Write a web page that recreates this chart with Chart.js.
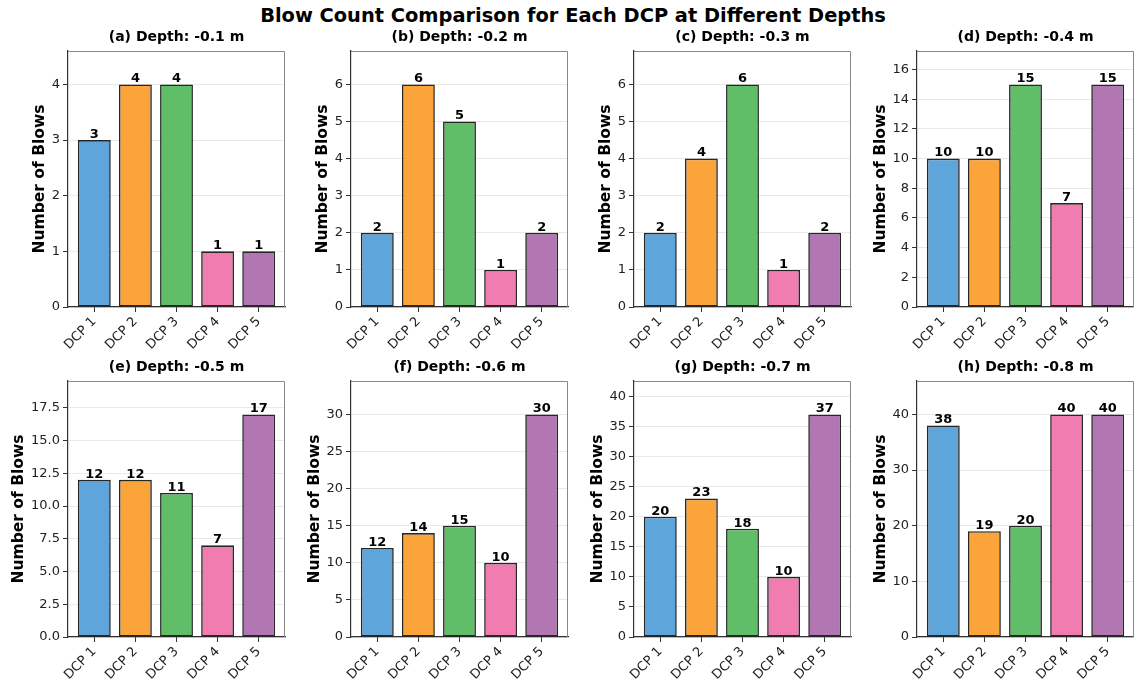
<!DOCTYPE html>
<html>
<head>
<meta charset="utf-8">
<script src="https://cdn.jsdelivr.net/npm/chart.js@4.4.1/dist/chart.umd.min.js"></script>
<style>
  html, body { margin: 0; padding: 0; background: #fff; overflow: hidden; }
  #wrap { position: relative; width: 1134px; height: 686px; }
  #title {
    position: absolute; left: 0; width: 1146px; top: 4px; text-align: center;
    font: bold 19.4px "DejaVu Sans", sans-serif; color: #000; line-height: 24px;
  }
  canvas { position: absolute; }
</style>
</head>
<body>
<div id="wrap">
  <div id="title">Blow Count Comparison for Each DCP at Different Depths</div>
</div>
<script>
// categorías y datos
const dcps = ['DCP 1', 'DCP 2', 'DCP 3', 'DCP 4', 'DCP 5'];
const panels = ['(a) Depth: -0.1 m', '(b) Depth: -0.2 m', '(c) Depth: -0.3 m', '(d) Depth: -0.4 m',
                '(e) Depth: -0.5 m', '(f) Depth: -0.6 m', '(g) Depth: -0.7 m', '(h) Depth: -0.8 m'];
const blows01 = [3, 4, 4, 1, 1];
const blows02 = [2, 6, 5, 1, 2];
const blows03 = [2, 4, 6, 1, 2];
const blows04 = [10, 10, 15, 7, 15];
const blows05 = [12, 12, 11, 7, 17];
const blows06 = [12, 14, 15, 10, 30];
const blows07 = [20, 23, 18, 10, 37];
const blows08 = [38, 19, 20, 40, 40];
const yStep = [1, 1, 1, 2, 2.5, 5, 5, 10];

const allBlows = [blows01, blows02, blows03, blows04, blows05, blows06, blows07, blows08];
const colors = ['#5DA5DA', '#FAA43A', '#60BD68', '#F17CB0', '#B276B2'];

// posiciones de cada panel
const colLeft = [68, 351, 634, 917];
const rowTop = [51, 381];
const plotW = 217, plotH = 256;
const padL = 70, padT = 32, padB = 70, padR = 6;
const FONT = '"DejaVu Sans", sans-serif';

// marco + etiquetas de valor encima de cada barra
const barLabels = {
  id: 'barLabels',
  afterDatasetsDraw(chart) {
    const ctx = chart.ctx;
    const meta = chart.getDatasetMeta(0);
    ctx.save();
    ctx.font = 'bold 13px ' + FONT;
    ctx.fillStyle = '#000';
    ctx.textAlign = 'center';
    ctx.textBaseline = 'bottom';
    meta.data.forEach((bar, i) => {
      ctx.fillText(String(chart.data.datasets[0].data[i].y), bar.x, bar.y + 1);
    });
    ctx.restore();
  },
  afterDraw(chart) {
    const a = chart.chartArea;
    const ctx = chart.ctx;
    ctx.save();
    ctx.strokeStyle = '#888';
    ctx.lineWidth = 1;
    ctx.beginPath();
    ctx.moveTo(a.left, a.top + 0.5);
    ctx.lineTo(a.right - 0.5, a.top + 0.5);
    ctx.lineTo(a.right - 0.5, a.bottom);
    ctx.stroke();
    ctx.restore();
  }
};

const wrap = document.getElementById('wrap');

allBlows.forEach((vals, k) => {
  const col = k % 4, row = Math.floor(k / 4);
  const canvas = document.createElement('canvas');
  const w = padL + plotW + padR, h = padT + plotH + padB;
  canvas.width = w; canvas.height = h;
  canvas.style.width = w + 'px'; canvas.style.height = h + 'px';
  canvas.style.left = (colLeft[col] - padL) + 'px';
  canvas.style.top = (rowTop[row] - padT) + 'px';
  wrap.appendChild(canvas);

  const step = yStep[k];
  const chart = new Chart(canvas.getContext('2d'), {
    type: 'bar',
    data: {
      datasets: [{
        data: vals.map((v, i) => ({ x: i, y: v })),
        backgroundColor: colors,
        borderColor: 'rgba(0,0,0,0.85)',
        borderWidth: 1.6,
        borderSkipped: false,
        categoryPercentage: 1,
        barPercentage: 0.8
      }]
    },
    options: {
      responsive: false,
      animation: false,
      layout: { padding: { left: 0, right: padR, top: 0, bottom: 0 } },
      plugins: {
        legend: { display: false },
        tooltip: { enabled: false },
        title: {
          display: true,
          fullSize: false,
          text: panels[k],
          color: '#000',
          font: { family: FONT, size: 14, weight: 'bold', lineHeight: 1.2 },
          padding: { top: 9.6, bottom: padT - 9.6 - 16.8 }
        }
      },
      scales: {
        x: {
          type: 'linear',
          offset: false,
          min: -0.64,
          max: 4.64,
          afterBuildTicks(scale) { scale.ticks = dcps.map((c, i) => ({ value: i })); },
          afterFit(scale) { scale.height = padB; },
          border: { display: true, color: '#333', width: 1.2 },
          grid: { offset: false, drawOnChartArea: false, drawTicks: true, tickLength: 5, tickColor: '#333', tickWidth: 1 },
          ticks: {
            callback: (v, i) => dcps[i],
            color: '#222',
            font: { family: FONT, size: 13 },
            minRotation: 45, maxRotation: 45,
            padding: 2,
            autoSkip: false
          }
        },
        y: {
          min: 0,
          max: Math.max(...vals) * 1.15,
          border: { display: true, color: '#333', width: 1.2 },
          grid: {
            color: 'rgba(0,0,0,0.11)', lineWidth: 0.8, borderDash: [3, 3],
            drawTicks: true, tickLength: 5, tickColor: '#333', tickWidth: 1, tickBorderDash: []
          },
          ticks: {
            stepSize: step,
            includeBounds: false,
            color: '#222',
            font: { family: FONT, size: 13 },
            padding: 3,
            callback: v => (step % 1 !== 0 ? v.toFixed(1) : String(v))
          },
          title: {
            display: true,
            text: 'Number of Blows',
            color: '#000',
            font: { family: FONT, size: 15.5, weight: 'bold', lineHeight: 1 },
            padding: { top: 0, bottom: 1 }
          }
        }
      }
    },
    plugins: [barLabels]
  });

  // ajustar el margen izquierdo para que el área del gráfico empiece en su sitio
  const shift = padL - chart.chartArea.left;
  chart.options.layout.padding.left = Math.max(0, shift);
  chart.update('none');
});
</script>
</body>
</html>
